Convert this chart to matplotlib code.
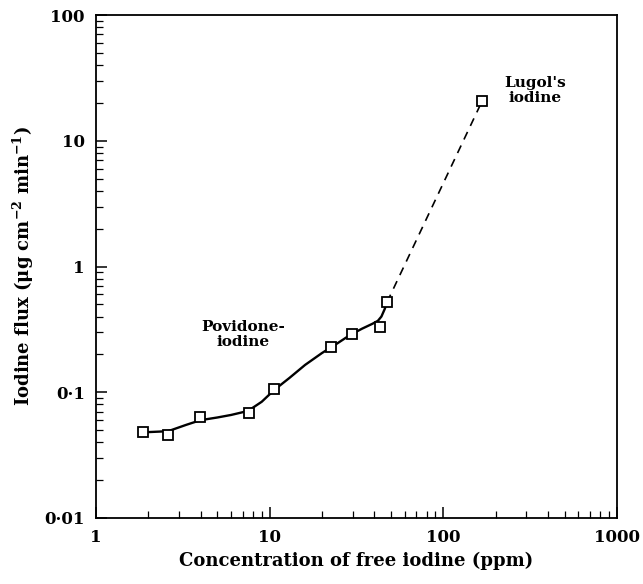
import numpy as np
import matplotlib.pyplot as plt
from matplotlib.ticker import FixedLocator, LogLocator, NullFormatter

plt.rcParams['font.family'] = 'DejaVu Serif'
plt.rcParams['mathtext.fontset'] = 'dejavuserif'

# measured points
pvp_conc = [1.87, 2.6, 3.97, 7.6, 10.6, 22.5, 29.8, 43.2, 47.4]
pvp_flux = [0.048, 0.046, 0.063, 0.068, 0.107, 0.228, 0.289, 0.329, 0.52]
lugol_conc = [167]
lugol_flux = [20.6]

# hand-drawn smooth curve through povidone-iodine points
curve_conc = [1.87, 2.6, 3.3, 4.0, 5.0, 6.0, 7.5, 9.0, 10.6, 13, 16, 20, 24, 29, 34, 39, 42, 44, 46, 47.4]
curve_flux = [0.048, 0.049, 0.055, 0.060, 0.063, 0.066, 0.071, 0.084, 0.104, 0.13, 0.165, 0.205, 0.24, 0.285, 0.32, 0.35, 0.37, 0.40, 0.46, 0.52]

yticks = [0.01, 0.1, 1, 10, 100]
ytick_labels = ['0·01', '0·1', '1', '10', '100']
xticks = [1, 10, 100, 1000]
xtick_labels = ['1', '10', '100', '1000']

fig = plt.figure(figsize=(6.43, 5.84), dpi=100)
ax = fig.add_axes([96/643, 1-518/584, (617-96)/643, (518-15)/584])

ax.plot(curve_conc, curve_flux, color='black', lw=1.7)
ax.plot([pvp_conc[-1], lugol_conc[0]], [pvp_flux[-1], lugol_flux[0]], color='black', lw=1.2, ls=(0, (5, 4)))
ax.plot(pvp_conc, pvp_flux, 's', ms=7, mfc='white', mec='black', mew=1.3)
ax.plot(lugol_conc, lugol_flux, 's', ms=7, mfc='white', mec='black', mew=1.3)

ax.set_xscale('log')
ax.set_yscale('log')
ax.set_xlim(1, 1000)
ax.set_ylim(0.01, 100)

ax.xaxis.set_major_locator(FixedLocator(xticks))
ax.set_xticklabels(xtick_labels, fontweight='bold')
ax.yaxis.set_major_locator(FixedLocator(yticks))
ax.set_yticklabels(ytick_labels, fontweight='bold')
ax.xaxis.set_minor_locator(LogLocator(base=10, subs=np.arange(2, 10)))
ax.yaxis.set_minor_locator(LogLocator(base=10, subs=np.arange(2, 10)))
ax.xaxis.set_minor_formatter(NullFormatter())
ax.yaxis.set_minor_formatter(NullFormatter())

ax.tick_params(which='both', direction='in', top=False, right=False, labelsize=12, pad=8)
ax.tick_params(which='major', length=8, width=1.1)
ax.tick_params(which='minor', length=5, width=0.9)
for s in ax.spines.values():
    s.set_linewidth(1.3)

ax.set_xlabel('Concentration of free iodine (ppm)', fontsize=13, fontweight='bold', labelpad=4)
ax.set_ylabel('Iodine flux (μg cm$^{\\mathbf{-2}}$ min$^{\\mathbf{-1}}$)', fontsize=13, fontweight='bold', labelpad=6)

ax.text(7.0, 0.29, 'Povidone-\niodine', ha='center', va='center', fontsize=11, fontweight='bold', linespacing=1.1)
ax.text(337, 25.2, "Lugol's\niodine", ha='center', va='center', fontsize=11, fontweight='bold', linespacing=1.1)

plt.savefig('out.png', dpi=100)
